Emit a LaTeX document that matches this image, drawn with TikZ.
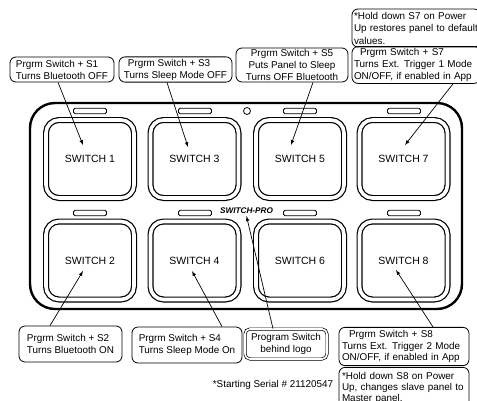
\documentclass[tikz,border=0pt]{standalone}
\usepackage{fontspec}
\setmainfont{Liberation Sans}
\usetikzlibrary{calc}

\begin{document}
\begin{tikzpicture}[x=1pt,y=-1pt]
	\tikzstyle{every node}=[font=\fontsize{9.9}{12}\selectfont, inner sep=2pt];
	\tikzstyle{callout}=[draw, rounded corners=6pt, line width=0.8pt];
	\tikzstyle{switchkey}=[draw, double, double distance=3.6pt, line width=1.2pt, rounded corners=13pt, minimum width=88pt, minimum height=78pt, font=\fontsize{10.5}{12}\selectfont];
	\tikzstyle{slot}=[draw, rounded corners=1.5pt, line width=0.9pt, minimum width=33pt, minimum height=5.5pt, inner sep=0pt];
	\tikzstyle{pointer}=[->, >=latex, line width=0.7pt];
	\useasboundingbox (0,0) rectangle (477,400);
	% panel
	\draw[line width=2.4pt, rounded corners=25pt] (30,103) rectangle (462,309);
	% switches
	\node [switchkey] (s1) at (90,159) {SWITCH 1};
	\node [switchkey] (s3) at (194.5,159) {SWITCH 3};
	\node [switchkey] (s5) at (300,159) {SWITCH 5};
	\node [switchkey] (s7) at (403.5,159) {SWITCH 7};
	\node [switchkey] (s2) at (90,260.5) {SWITCH 2};
	\node [switchkey] (s4) at (194.5,260.5) {SWITCH 4};
	\node [switchkey] (s6) at (300,260.5) {SWITCH 6};
	\node [switchkey] (s8) at (403.5,260.5) {SWITCH 8};
	% led slots
	\foreach \x in {90,195,300,404} {
		\node [slot] (lt\x) at (\x,111) {};
		\node [slot] (lb\x) at (\x,213) {};
	}
	\node [draw, circle, minimum size=7pt, inner sep=0pt, line width=0.8pt] (led) at (247,111) {};
	\node [font=\fontsize{8.2}{10}\selectfont\bfseries\itshape] (logo) at (246.5,211) {SWITCH-PRO};
	% top callouts
	\node [callout, minimum width=104pt, minimum height=25pt, align=left] (b1) at (62,69.5) {Prgrm Switch + S1\\Turns Bluetooth OFF};
	\node [callout, minimum width=113pt, minimum height=25pt, align=left] (b3) at (175.5,69.5) {\hspace*{4pt}Prgrm Switch + S3\\Turns Sleep Mode OFF};
	\node [callout, minimum width=112pt, minimum height=34pt, align=center, inner sep=1pt, font=\fontsize{9.9}{11.8}\selectfont] (b5) at (292,65) {Prgrm Switch + S5\\Puts Panel to Sleep\\Turns OFF Bluetooth};
	\node [callout, text width=124pt, minimum height=34pt, align=left, inner sep=2pt, font=\fontsize{9.9}{11.8}\selectfont] (b7) at (416,65) {\hspace*{6pt}Prgrm Switch + S7\\Turns Ext. Trigger 1 Mode\\ON/OFF, if enabled in App};
	\node [callout, text width=124pt, minimum height=38pt, align=left, inner sep=2pt, font=\fontsize{9.9}{12.5}\selectfont] (n7) at (416,28) {*Hold down S7 on Power\\Up restores panel to default\\values.};
	% bottom callouts
	\node [callout, minimum width=103pt, minimum height=36pt, align=left, font=\fontsize{9.9}{11.5}\selectfont] (b2) at (70.5,344) {Prgrm Switch + S2\\Turns Bluetooth ON};
	\node [callout, minimum width=110pt, minimum height=36pt, align=left, font=\fontsize{9.9}{11.5}\selectfont] (b4) at (187,345) {Prgrm Switch + S4\\Turns Sleep Mode On};
	\node [draw, double, double distance=1.6pt, line width=0.7pt, rounded corners=5pt, minimum width=82pt, minimum height=30pt, align=center, font=\fontsize{9.9}{11.5}\selectfont] (bp) at (286,344) {Program Switch\\behind logo};
	\node [callout, text width=124pt, minimum height=37pt, align=left, inner sep=3pt, font=\fontsize{9.9}{11.5}\selectfont] (b8) at (404,346.5) {\hspace*{7pt}Prgrm Switch + S8\\Turns Ext. Trigger 2 Mode\\ON/OFF, if enabled in App};
	\node [callout, text width=124pt, minimum height=42pt, align=left, inner sep=3pt, anchor=north, font=\fontsize{9.9}{11}\selectfont] (n8) at (404,367) {*Hold down S8 on Power\\Up, changes slave panel to\\Master panel.};
	\node (serial) at (273,385) {*Starting Serial \# 21120547};
	% pointers
	\coordinate (t1) at (83,145);
	\coordinate (t3) at (188,147);
	\coordinate (t5) at (291,145);
	\coordinate (t7) at (405,145);
	\coordinate (t2) at (83,271);
	\coordinate (t4) at (192,271);
	\coordinate (t8) at (396,270);
	\draw[pointer] ($(b1.south)+(-4,0)$) -- (t1);
	\draw[pointer] ($(b3.south)+(-8.5,0)$) -- (t3);
	\draw[pointer] ($(b5.south)+(21,0)$) -- (t5);
	\draw[pointer] ($(b7.south)+(37,0)$) -- (t7);
	\draw[pointer] ($(b2.north)+(-20.5,0)$) -- (t2);
	\draw[pointer] ($(b4.north)+(35,0)$) -- (t4);
	\draw[pointer] ($(bp.north)+(-13,0)$) -- (logo.south);
	\draw[pointer] ($(b8.north)+(29,0)$) -- (t8);
\end{tikzpicture}
\end{document}
